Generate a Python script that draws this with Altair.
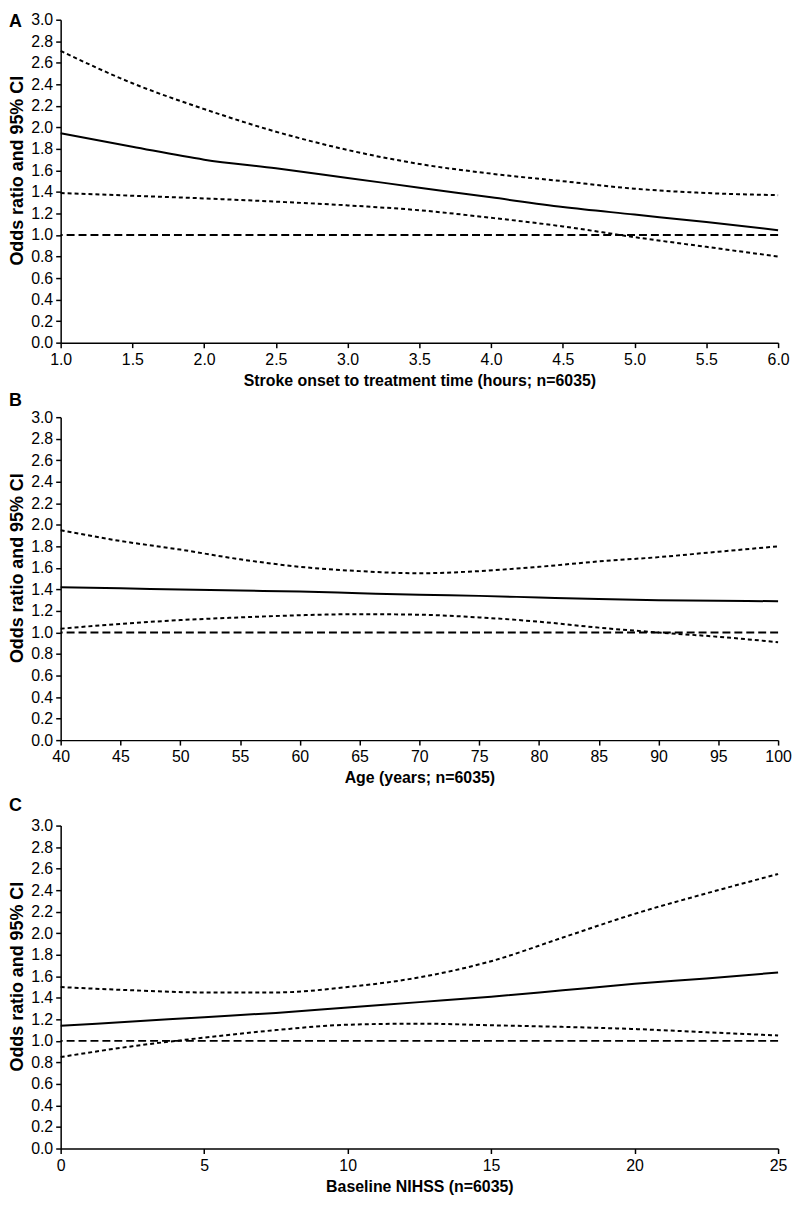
import altair as alt
import pandas as pd

FONT = "Liberation Sans"

# ---- Panel A: stroke onset to treatment time (hours) ----
onset_hours = [1.0, 1.5, 2.0, 2.5, 3.0, 3.5, 4.0, 4.5, 5.0, 5.5, 6.0]
onset_or = [1.945, 1.82, 1.70, 1.62, 1.53, 1.44, 1.35, 1.26, 1.19, 1.12, 1.045]
onset_lo = [1.39, 1.365, 1.34, 1.31, 1.275, 1.23, 1.16, 1.08, 0.98, 0.89, 0.80]
onset_hi = [2.71, 2.41, 2.17, 1.96, 1.79, 1.66, 1.57, 1.50, 1.43, 1.39, 1.37]
onset_ticks = [1.0, 1.5, 2.0, 2.5, 3.0, 3.5, 4.0, 4.5, 5.0, 5.5, 6.0]

# ---- Panel B: age (years) ----
age_years = [40, 45, 50, 55, 60, 65, 70, 75, 80, 85, 90, 95, 100]
age_or = [1.42, 1.41, 1.40, 1.39, 1.38, 1.365, 1.35, 1.34, 1.325, 1.31, 1.30, 1.295, 1.29]
age_lo = [1.035, 1.08, 1.115, 1.14, 1.16, 1.17, 1.165, 1.14, 1.10, 1.045, 1.0, 0.96, 0.91]
age_hi = [1.95, 1.85, 1.77, 1.68, 1.61, 1.57, 1.55, 1.57, 1.61, 1.66, 1.70, 1.75, 1.80]
age_ticks = [40, 45, 50, 55, 60, 65, 70, 75, 80, 85, 90, 95, 100]

# ---- Panel C: baseline NIHSS ----
nihss = [0, 2.5, 5, 7.5, 10, 12.5, 15, 17.5, 20, 22.5, 25]
nihss_or = [1.14, 1.18, 1.22, 1.26, 1.31, 1.36, 1.41, 1.47, 1.53, 1.58, 1.635]
nihss_lo = [0.85, 0.95, 1.03, 1.10, 1.15, 1.16, 1.145, 1.13, 1.11, 1.08, 1.05]
nihss_hi = [1.50, 1.47, 1.45, 1.45, 1.50, 1.59, 1.74, 1.96, 2.18, 2.37, 2.55]
nihss_ticks = [0, 5, 10, 15, 20, 25]

y_ticks = [0.0, 0.2, 0.4, 0.6, 0.8, 1.0, 1.2, 1.4, 1.6, 1.8, 2.0, 2.2, 2.4, 2.6, 2.8, 3.0]
reference_or = [1.0]

Y_TITLE = "Odds ratio and 95% CI"
W, H = 722, 325


def panel(letter, letter_y, top_extent, x, est, lo, hi, xticks, xfmt, xtitle):
    df = pd.DataFrame({"x": x, "est": est, "lo": lo, "hi": hi})
    xenc = alt.X("x:Q",
                 scale=alt.Scale(domain=[xticks[0], xticks[-1]], nice=False, zero=False),
                 axis=alt.Axis(values=xticks, format=xfmt, title=xtitle,
                               labelFlush=False, labelOverlap=False))

    def yenc(field):
        return alt.Y(f"{field}:Q",
                     scale=alt.Scale(domain=[0, 3], nice=False, zero=True),
                     axis=alt.Axis(values=y_ticks, format=".1f", title=Y_TITLE,
                                   titleY=H / 2 - 11))

    base = alt.Chart(df)
    ref = alt.Chart(pd.DataFrame({"ref": reference_or})).mark_rule(
        color="black", strokeWidth=2, strokeDash=[8, 4]).encode(y=yenc("ref"))
    lo_line = base.mark_line(color="black", strokeWidth=2, strokeDash=[4, 3],
                             interpolate="monotone").encode(x=xenc, y=yenc("lo"))
    hi_line = base.mark_line(color="black", strokeWidth=2, strokeDash=[4, 3],
                             interpolate="monotone").encode(x=xenc, y=yenc("hi"))
    est_line = base.mark_line(color="black", strokeWidth=2,
                              interpolate="monotone").encode(x=xenc, y=yenc("est"))
    letters = pd.DataFrame({"t": [letter]})
    lab = alt.Chart(letters).mark_text(
        align="left", baseline="top", fontSize=18, fontWeight="bold",
        font=FONT, color="black").encode(
        text="t:N", x=alt.value(-52), y=alt.value(letter_y))
    layers = [ref, lo_line, hi_line, est_line, lab]
    if top_extent is not None:
        spacer = alt.Chart(letters).mark_text(
            align="left", baseline="top", fontSize=18, fontWeight="bold",
            font=FONT, opacity=0).encode(
            text="t:N", x=alt.value(-52), y=alt.value(top_extent))
        layers.append(spacer)
    return alt.layer(*layers).properties(width=W, height=H)


pa = panel("A", -7, None, onset_hours, onset_or, onset_lo, onset_hi, onset_ticks, ".1f",
           "Stroke onset to treatment time (hours; n=6035)")
pb = panel("B", -25, None, age_years, age_or, age_lo, age_hi, age_ticks, "d",
           "Age (years; n=6035)")
pc = panel("C", -29, -36, nihss, nihss_or, nihss_lo, nihss_hi, nihss_ticks, "d",
           "Baseline NIHSS (n=6035)")

chart = alt.vconcat(pa, pb, pc, spacing=4).properties(
    padding={"left": 0, "top": 0, "right": 0, "bottom": 0}
).configure_view(stroke=None).configure_axis(
    grid=False,
    domainColor="black", domainWidth=1.5,
    tickColor="black", tickWidth=1.5, tickSize=5,
    labelFont=FONT, labelFontSize=16, labelColor="black", labelPadding=3,
    titleFont=FONT, titleFontSize=16, titleFontWeight="bold", titleColor="black",
).configure_axisX(titlePadding=5, labelPadding=4).configure_axisY(titlePadding=4, titleFontSize=18)

chart.save("out.html", embed_options={"renderer": "svg", "actions": False})
